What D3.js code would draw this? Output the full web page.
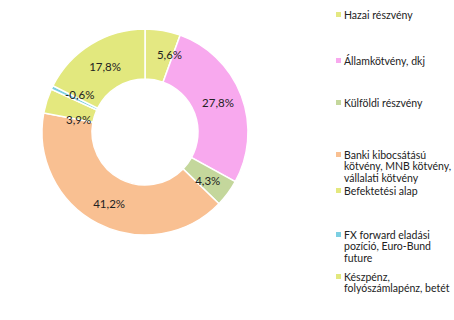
<!DOCTYPE html>
<html>
<head>
<meta charset="utf-8">
<title>donut</title>
<script src="https://cdn.jsdelivr.net/npm/d3@7"></script>
<style>
  body { margin: 0; background: white; }
  svg { font-family: Lato, "Open Sans", sans-serif; }
  .lbl { font-size: 11.5px; fill: #222; }
  .leg text { font-size: 10.5px; fill: #222; }
</style>
</head>
<body>
<svg id="main" width="454" height="320"></svg>
<script>
// data
let categories = ['Hazai részvény', 'Államkötvény, dkj', 'Külföldi részvény',
    'Banki kibocsátású kötvény, MNB kötvény, vállalati kötvény',
    'Befektetési alap', 'FX forward eladási pozíció, Euro-Bund future',
    'Készpénz, folyószámlapénz, betét'];
let values = [5.6, 27.8, 4.3, 41.2, 3.9, -0.6, 17.8];
let labels = ['5,6%', '27,8%', '4,3%', '41,2%', '3,9%', '-0,6%', '17,8%'];
let colors = ['#e4e882', '#f8a9ee', '#c4d79c', '#f9c092', '#e4e87e', '#7ccfe2', '#e2e87e'];
// legend lines (wrapped like the original)
let legendLines = [
    ['Hazai részvény'],
    ['Államkötvény, dkj'],
    ['Külföldi részvény'],
    ['Banki kibocsátású', 'kötvény, MNB kötvény,', 'vállalati kötvény'],
    ['Befektetési alap'],
    ['FX forward eladási', 'pozíció, Euro-Bund', 'future'],
    ['Készpénz,', 'folyószámlapénz, betét']
];
let legendY = [15, 61, 103, 155, 191, 235, 277];
let labelNudge = [[11, 0], [0, -2], [0, 3], [0, 3], [8, 12], [5, -3], [1, 1]];

let svg = d3.select('svg#main');
let cx = 145, cy = 132, rOut = 103, rIn = 53;

let pie = d3.pie().sort(null).value(d => Math.abs(d));
let arcs = pie(values);
let arc = d3.arc().innerRadius(rIn).outerRadius(rOut);
let mid = d3.arc().innerRadius(78).outerRadius(78);

let g = svg.append('g').attr('transform', 'translate(' + cx + ',' + cy + ')');
g.selectAll('path')
    .data(arcs)
    .enter().append('path')
    .attr('d', arc)
    .attr('fill', (d, i) => colors[i])
    .attr('stroke', 'white')
    .attr('stroke-width', 1.5);

g.selectAll('text.lbl')
    .data(arcs)
    .enter().append('text')
    .attr('class', 'lbl')
    .attr('text-anchor', 'middle')
    .attr('dy', '0.35em')
    .attr('transform', (d, i) => {
        let c = mid.centroid(d);
        return 'translate(' + (c[0] + labelNudge[i][0]) + ',' + (c[1] + labelNudge[i][1]) + ')';
    })
    .text((d, i) => labels[i]);

// legend
let leg = svg.append('g').attr('class', 'leg');
let items = leg.selectAll('g')
    .data(categories)
    .enter().append('g')
    .attr('transform', (d, i) => 'translate(336,' + legendY[i] + ')');
items.append('rect')
    .attr('x', 0).attr('y', -3)
    .attr('width', 5).attr('height', 5)
    .attr('fill', (d, i) => colors[i]);
items.each(function (d, i) {
    let sel = d3.select(this);
    legendLines[i].forEach((ln, j) => {
        sel.append('text')
            .attr('x', 8)
            .attr('y', j * 11.5)
            .attr('dy', '0.35em')
            .text(ln);
    });
});
</script>
</body>
</html>
